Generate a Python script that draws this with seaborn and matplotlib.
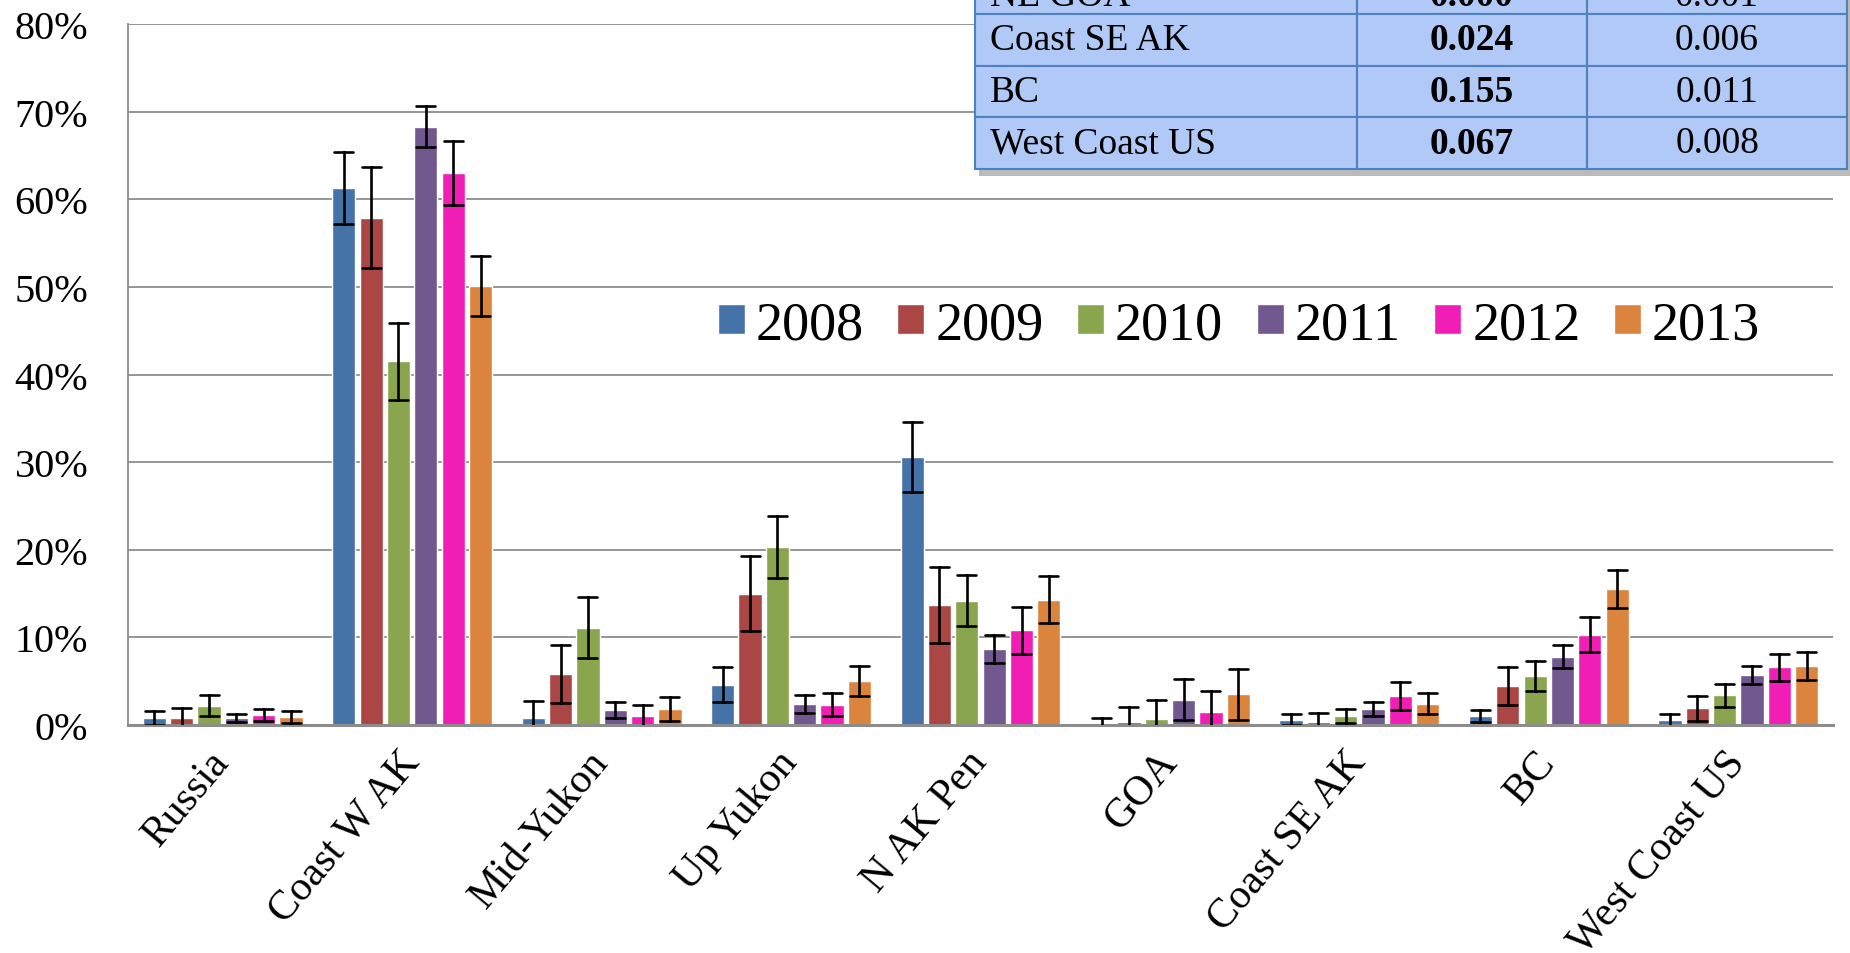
import matplotlib
matplotlib.use('Agg')
import matplotlib.pyplot as plt
from matplotlib.patches import Rectangle
from matplotlib.ticker import PercentFormatter
import seaborn as sns
import pandas as pd

# ===== data =====
regions = ['Russia', 'Coast W AK', 'Mid-Yukon', 'Up Yukon', 'N AK Pen',
           'GOA', 'Coast SE AK', 'BC', 'West Coast US']
years = ['2008', '2009', '2010', '2011', '2012', '2013']

share_2008 = [0.8, 61.3, 0.8, 4.6, 30.6, 0.0, 0.6, 1.0, 0.55]
share_2009 = [0.8, 57.9, 5.8, 15.0, 13.7, 0.3, 0.3, 4.45, 1.9]
share_2010 = [2.2, 41.5, 11.1, 20.3, 14.2, 0.7, 1.0, 5.6, 3.4]
share_2011 = [0.8, 68.3, 1.7, 2.4, 8.7, 2.9, 1.8, 7.8, 5.7]
share_2012 = [1.1, 63.0, 1.0, 2.3, 10.8, 1.5, 3.3, 10.3, 6.6]
share_2013 = [0.9, 50.1, 1.8, 5.0, 14.3, 3.5, 2.4, 15.5, 6.7]

err_2008 = [0.8, 4.1, 1.9, 2.0, 4.0, 0.8, 0.6, 0.7, 0.65]
err_2009 = [1.1, 5.8, 3.3, 4.3, 4.3, 1.7, 1.1, 2.2, 1.4]
err_2010 = [1.2, 4.4, 3.5, 3.5, 2.9, 2.2, 0.8, 1.7, 1.3]
err_2011 = [0.45, 2.3, 0.9, 1.0, 1.6, 2.3, 0.8, 1.3, 1.0]
err_2012 = [0.7, 3.6, 1.3, 1.3, 2.7, 2.4, 1.6, 2.0, 1.55]
err_2013 = [0.65, 3.45, 1.4, 1.7, 2.7, 2.9, 1.2, 2.2, 1.6]

year_colors = ['#4572A7', '#AA4643', '#89A54E', '#71588F', '#F01EB4', '#DB843D']

table_regions = ['NE GOA', 'Coast SE AK', 'BC', 'West Coast US']
table_est = ['0.000', '0.024', '0.155', '0.067']
table_se = ['0.001', '0.006', '0.011', '0.008']

# ===== long table: two rows per bar (value - err, value + err) so that
# mean = value and the min-max interval = error bar =====
shares = [share_2008, share_2009, share_2010, share_2011, share_2012, share_2013]
errs = [err_2008, err_2009, err_2010, err_2011, err_2012, err_2013]
rows = []
for yr, s, e in zip(years, shares, errs):
    for reg, v, d in zip(regions, s, e):
        rows.append({'region': reg, 'year': yr, 'pct': v - d})
        rows.append({'region': reg, 'year': yr, 'pct': v + d})
df = pd.DataFrame(rows)

# ===== style =====
sns.set_style('white')
plt.rcParams['font.family'] = ['Liberation Serif', 'DejaVu Serif']
plt.rcParams['text.color'] = 'black'
plt.rcParams['xtick.labelcolor'] = 'black'
plt.rcParams['ytick.labelcolor'] = 'black'
grid_col = '#8c8c8c'

fig = plt.figure(figsize=(18.5, 9.54), dpi=100)
ax = fig.add_axes([128 / 1850, 1 - 726 / 954, (1833 - 128) / 1850, (726 - 25) / 954])

sns.barplot(data=df, x='region', y='pct', hue='year', order=regions, hue_order=years,
            palette=year_colors, estimator='mean', errorbar=('pi', 100),
            width=0.866, gap=0.15, capsize=0.6, saturation=1,
            err_kws={'color': 'black', 'linewidth': 1.9, 'zorder': 5},
            ax=ax, zorder=3)

ax.set_ylim(0, 80)
ax.set_yticks(range(0, 81, 10))
ax.yaxis.set_major_formatter(PercentFormatter(100, decimals=0))
ax.yaxis.grid(True, color=grid_col, linewidth=1.3, zorder=0)
ax.set_axisbelow(True)
ax.set_xlabel('')
ax.set_ylabel('')

for side in ['top', 'right']:
    ax.spines[side].set_visible(False)
ax.spines['left'].set_color(grid_col)
ax.spines['left'].set_linewidth(1.3)
ax.spines['bottom'].set_color(grid_col)
ax.spines['bottom'].set_linewidth(2.2)
ax.spines['bottom'].set_zorder(4)

ax.tick_params(axis='y', length=8.6, width=1.3, color=grid_col, pad=20,
               labelsize=29, labelcolor='black')
ax.tick_params(axis='x', length=0, pad=22, labelcolor='black')
ax.set_xticks(range(len(regions)))
ax.set_xticklabels(regions, rotation=50, ha='right', va='center',
                   rotation_mode='anchor', fontsize=30)

# legend
handles, labels = ax.get_legend_handles_labels()
ax.get_legend().remove()
fig.legend(handles, labels, loc='center', bbox_to_anchor=(1239 / 1850, 1 - 326 / 954),
           ncol=6, frameon=False, fontsize=39, handlelength=0.5, handleheight=0.5,
           handletextpad=0.2, columnspacing=0.62, borderpad=0, labelcolor='black')

# ===== table in the upper right corner (partly cut off at the top) =====
tx0, tx1 = 975 / 1850, 1847 / 1850
ty0, ty1 = 1 - 170 / 954, 1 + 22 / 954
fig.patches.append(Rectangle((tx0 + 4 / 1850, ty0 - 7 / 954), tx1 - tx0, ty1 - ty0,
                             transform=fig.transFigure, facecolor='#8f8f8f',
                             alpha=0.6, edgecolor='none', zorder=5))
tax = fig.add_axes([tx0, ty0, tx1 - tx0, ty1 - ty0], zorder=6)
tax.axis('off')
cells = [[r, e, s] for r, e, s in zip(table_regions, table_est, table_se)]
tbl = tax.table(cellText=cells, bbox=[0, 0, 1, 1], colWidths=[0.438, 0.264, 0.298],
                cellLoc='center')
tbl.auto_set_font_size(False)
tbl.set_fontsize(27)
row_h = [37, 52, 52, 52]
for (r, c), cell in tbl.get_celld().items():
    cell.set_height(row_h[r])
    cell.set_facecolor('#b1c9f7')
    cell.set_edgecolor('#4f81bd')
    cell.set_linewidth(1.5)
    cell.get_text().set_color('black')
    if c == 0:
        cell.get_text().set_horizontalalignment('left')
        cell.PAD = 0.04
    if c == 1:
        cell.get_text().set_fontweight('bold')

fig.savefig('out.png', dpi=100)
